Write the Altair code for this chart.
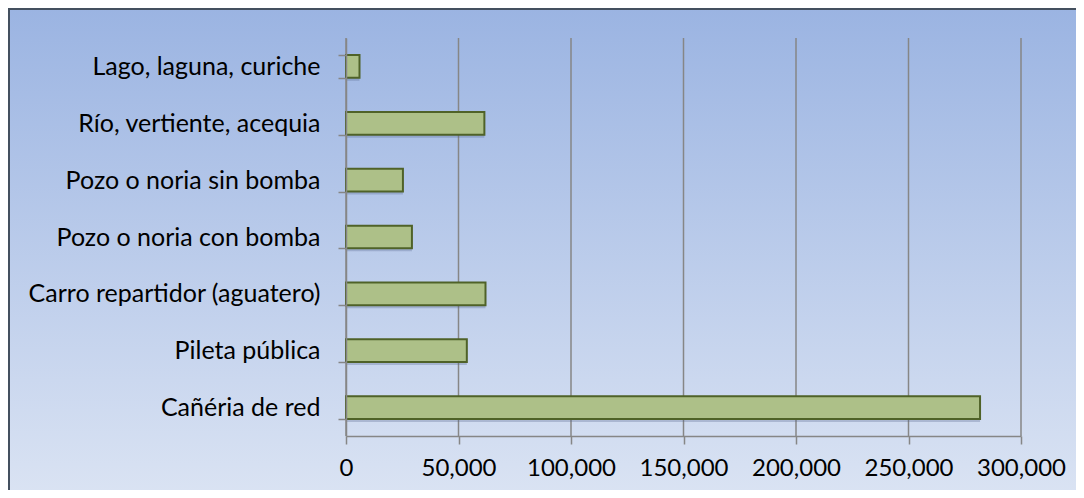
import altair as alt
import pandas as pd

categories = [
    "Lago, laguna, curiche",
    "Río, vertiente, acequia",
    "Pozo o noria sin bomba",
    "Pozo o noria con bomba",
    "Carro repartidor (aguatero)",
    "Pileta pública",
    "Cañéria de red",
]
values = [6000, 61500, 25300, 29300, 62000, 53700, 281800]
tick_values = [0, 50000, 100000, 150000, 200000, 250000, 300000]

df = pd.DataFrame({"cat": categories, "val": values})
grid_df = pd.DataFrame({"g": tick_values})
bg_df = pd.DataFrame({"a": [0]})

W, H = 675, 398
PL, PT, PR, PB = 338, 30, 55, 54
FONT = "Lato"
FS = 25

bg = alt.Chart(bg_df).mark_rect(
    color=alt.LinearGradient(
        gradient="linear",
        stops=[alt.GradientStop(color="#9BB4E2", offset=0),
               alt.GradientStop(color="#DAE3F3", offset=1)],
        x1=0, x2=0, y1=0, y2=1),
    stroke="#44505F", strokeWidth=2,
).encode(
    x=alt.value(-PL + 1), x2=alt.value(W + PR + 5),
    y=alt.value(-PT + 1), y2=alt.value(H + PB + 5),
)

xscale = alt.Scale(domain=[0, 300000], nice=False)
xaxis = alt.Axis(
    title=None, values=tick_values, format=",.0f", grid=False,
    tickSize=8, tickColor="#868686", tickWidth=1.5,
    domainColor="#868686", domainWidth=1.5,
    labelFont=FONT, labelFontSize=24, labelColor="#000000",
    labelPadding=12, labelOverlap=False, labelFlush=False, zindex=1,
)

grid = alt.Chart(grid_df).mark_rule(color="#868686", strokeWidth=1.5).encode(
    x=alt.X("g:Q", scale=xscale, axis=xaxis),
    y=alt.value(0), y2=alt.value(H),
)

yenc = alt.Y(
    "cat:N", sort=categories,
    scale=alt.Scale(paddingInner=0.6, paddingOuter=0.3),
    axis=alt.Axis(
        title=None, tickBand="extent", tickSize=8, tickColor="#868686",
        tickWidth=1.5, domainColor="#868686", domainWidth=1.5,
        labelFont=FONT, labelFontSize=FS, labelColor="#000000",
        labelPadding=18, labelLimit=400, zindex=1,
    ),
)
xenc = alt.X("val:Q", scale=xscale, axis=xaxis)

shadow = alt.Chart(df).mark_bar(
    color="#52648A", opacity=0.3, x2Offset=3, yOffset=3,
).encode(x=xenc, y=yenc)

bars = alt.Chart(df).mark_bar(
    fill="#ADC088", stroke="#4F6228", strokeWidth=2,
).encode(x=xenc, y=yenc)

chart = alt.layer(bg, grid, shadow, bars).properties(
    width=W, height=H,
    autosize=alt.AutoSizeParams(type="none"),
    padding={"left": PL, "top": PT, "right": PR, "bottom": PB},
).configure_view(stroke=None)

chart.save("out.html", embed_options={"renderer": "svg", "actions": False})
